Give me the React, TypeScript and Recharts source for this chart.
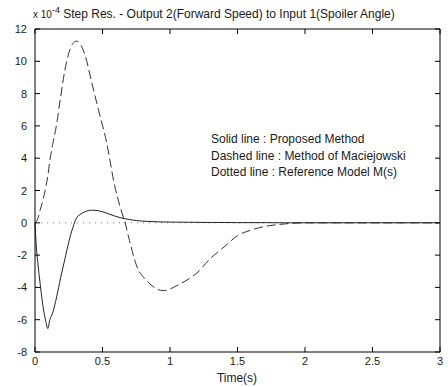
import { LineChart, Line, XAxis, YAxis } from "recharts"

// time samples (s)
const times = [
  0, 0.01, 0.02, 0.04, 0.06, 0.08, 0.095, 0.11, 0.13, 0.16, 0.19, 0.22, 0.25, 0.28, 0.31, 0.34, 0.37,
  0.42, 0.47, 0.53, 0.59, 0.63, 0.667, 0.7, 0.75, 0.83, 0.95, 1.07, 1.2, 1.3, 1.4, 1.5, 1.6, 1.72,
  1.85, 2.0, 2.5, 3.0,
]

// solid line : proposed method (x 10^-4)
const proposed = [
  0, -1.5, -2.4, -3.9, -5.2, -6.1, -6.55, -6.0, -5.6, -4.6, -3.4, -2.3, -1.2, -0.3, 0.33, 0.55, 0.68,
  0.78, 0.75, 0.6, 0.42, 0.32, 0.25, 0.2, 0.14, 0.09, 0.05, 0.04, 0.03, 0.02, 0.02, 0.01, 0.01, 0.01,
  0, 0, 0, 0,
]

// dashed line : method of Maciejowski
const maciejowski = [
  0, 0.07, 0.25, 0.85, 1.45, 2.2, 2.9, 3.85, 4.8, 6.1, 7.8, 9.4, 10.5, 11.1, 11.25, 11.0, 10.4,
  8.7, 7.0, 5.0, 2.3, 1.0, 0, -1.1, -2.6, -3.6, -4.2, -3.8, -3.1, -2.2, -1.5, -0.8, -0.45, -0.2,
  -0.07, 0, 0, 0,
]

// dotted line : reference model M(s)
const reference = [
  0, 0, 0, 0, 0, 0, 0, 0, 0, 0, 0, 0, 0, 0, 0, 0, 0,
  0, 0, 0, 0, 0, 0, 0, 0, 0, 0, 0, 0, 0, 0, 0, 0, 0,
  0, 0, 0, 0,
]

const xTicks = [0, 0.5, 1, 1.5, 2, 2.5, 3]
const yTicks = [-8, -6, -4, -2, 0, 2, 4, 6, 8, 10, 12]

const data = times.map((t, i) => ({
  t,
  proposed: proposed[i],
  maciejowski: maciejowski[i],
  reference: reference[i],
}))

const font = "'Liberation Sans', Arial, sans-serif"
const ink = "#1a1a1a"

// labels outside, tick marks pointing into the plot (matlab style)
function LeftTick({ x, y, payload }: any) {
  return (
    <g>
      <text x={x} y={y} dy={4} textAnchor="end" fontSize={11} fontFamily={font} fill={ink}>
        {payload.value}
      </text>
      <line x1={x + 8} y1={y} x2={x + 13} y2={y} stroke="#000" />
    </g>
  )
}

function BottomTick({ x, y, payload }: any) {
  return (
    <g>
      <text x={x} y={y} dy={4} textAnchor="middle" fontSize={11} fontFamily={font} fill={ink}>
        {payload.value}
      </text>
      <line x1={x} y1={y - 9} x2={x} y2={y - 14} stroke="#000" />
    </g>
  )
}

export default function App() {
  return (
    <div style={{ position: "absolute", left: 0, top: 0, width: 448, height: 387, background: "#fff", fontFamily: font, color: ink }}>
      <LineChart width={448} height={387} data={data} margin={{ top: 29, right: 8, bottom: 0, left: 0 }}>
        <XAxis
          dataKey="t"
          type="number"
          domain={[0, 3]}
          ticks={xTicks}
          height={35}
          tickSize={0}
          tickMargin={9}
          tickLine={false}
          tick={<BottomTick />}
          axisLine={{ stroke: "#000" }}
        />
        <XAxis
          xAxisId="top"
          dataKey="t"
          orientation="top"
          type="number"
          domain={[0, 3]}
          ticks={xTicks}
          mirror
          tickSize={5}
          tickFormatter={() => ""}
          tickLine={{ stroke: "#000" }}
          axisLine={{ stroke: "#000" }}
        />
        <YAxis
          type="number"
          domain={[-8, 12]}
          ticks={yTicks}
          width={35}
          tickSize={0}
          tickMargin={8}
          tickLine={false}
          tick={<LeftTick />}
          axisLine={{ stroke: "#000" }}
        />
        <YAxis
          yAxisId="right"
          orientation="right"
          type="number"
          domain={[-8, 12]}
          ticks={yTicks}
          mirror
          width={10}
          tickSize={5}
          tickFormatter={() => ""}
          tickLine={{ stroke: "#000" }}
          axisLine={{ stroke: "#000" }}
        />
        <Line
          dataKey="reference"
          xAxisId="top"
          yAxisId="right"
          type="linear"
          stroke="#777"
          strokeWidth={1}
          strokeDasharray="1 5"
          dot={false}
          isAnimationActive={false}
        />
        <Line dataKey="maciejowski" type="monotone" stroke="#333" strokeWidth={1} strokeDasharray="9 4" dot={false} isAnimationActive={false} />
        <Line dataKey="proposed" type="monotone" stroke="#222" strokeWidth={1} dot={false} isAnimationActive={false} />
      </LineChart>

      <div style={{ position: "absolute", left: 33, top: 8, fontSize: 12, lineHeight: "13px", whiteSpace: "nowrap" }}>
        <span style={{ fontSize: 10 }}>x 10</span>
        <span style={{ fontSize: 9, position: "relative", top: -5 }}>-4</span>
        <span> Step Res. - Output 2(Forward Speed) to Input 1(Spoiler Angle)</span>
      </div>

      <div style={{ position: "absolute", left: 211, top: 131, fontSize: 12, lineHeight: "16.5px", whiteSpace: "nowrap" }}>
        <div>Solid line : Proposed Method</div>
        <div>Dashed line : Method of Maciejowski</div>
        <div>Dotted line : Reference Model M(s)</div>
      </div>

      <div style={{ position: "absolute", left: 137, width: 200, top: 371, fontSize: 12, lineHeight: "14px", textAlign: "center" }}>
        Time(s)
      </div>
    </div>
  )
}
